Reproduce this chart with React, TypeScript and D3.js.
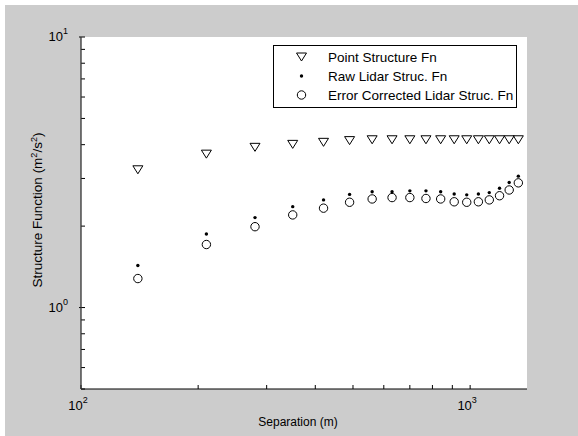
import React, { useRef, useEffect } from "react";
import * as d3 from "d3";

/* separation (m) and the three structure functions */
const SEPARATION = [140, 210, 280, 350, 420, 490, 560, 630, 700, 770, 840, 910, 980, 1050, 1120, 1190, 1260, 1330];
const POINT_SF = [3.23, 3.69, 3.91, 4.01, 4.08, 4.14, 4.17, 4.17, 4.17, 4.17, 4.17, 4.17, 4.17, 4.17, 4.17, 4.17, 4.17, 4.17];
const RAW_LIDAR = [1.43, 1.87, 2.15, 2.36, 2.5, 2.62, 2.68, 2.68, 2.7, 2.7, 2.68, 2.63, 2.61, 2.63, 2.66, 2.76, 2.9, 3.06];
const CORR_LIDAR = [1.28, 1.71, 1.99, 2.2, 2.33, 2.45, 2.52, 2.55, 2.55, 2.53, 2.52, 2.46, 2.45, 2.46, 2.5, 2.59, 2.72, 2.89];

const LEGEND = ["Point Structure Fn", "Raw Lidar Struc. Fn", "Error Corrected Lidar Struc. Fn"];
const X_DECADES = [2, 3];
const Y_DECADES = [0, 1];

export default function App() {
  const svgRef = useRef<SVGSVGElement>(null);

  useEffect(() => {
    document.body.style.margin = "0";

    /* ---- layout ---- */
    const W = 578;
    const H = 436;
    const M = { top: 37, right: 51, bottom: 47, left: 81 };
    const x = d3.scaleLog().domain([100, 1400]).range([M.left, W - M.right]);
    const y = d3.scaleLog().domain([0.5, 10]).range([H - M.bottom, M.top]);
    const font = "'Liberation Sans', Arial, sans-serif";

    const svg = d3.select(svgRef.current).attr("width", W).attr("height", H).style("font-family", font);
    svg.selectAll("*").remove();

    /* ---- background ---- */
    svg.append("rect").attr("x", 5).attr("y", 5).attr("width", W - 5).attr("height", H - 5).attr("fill", "#cccccc");
    svg
      .append("rect")
      .attr("x", M.left)
      .attr("y", M.top)
      .attr("width", W - M.right - M.left)
      .attr("height", H - M.bottom - M.top)
      .attr("fill", "#ffffff");

    /* ---- ticks (inward, MATLAB style) ---- */
    const xTicks = x.ticks().filter((t) => t >= 100 && t <= 1400);
    svg
      .append("g")
      .selectAll("line")
      .data(xTicks)
      .enter()
      .append("line")
      .attr("x1", (d) => x(d))
      .attr("x2", (d) => x(d))
      .attr("y1", H - M.bottom)
      .attr("y2", H - M.bottom - 4)
      .attr("stroke", "#000");

    const yTicks = y.ticks().filter((t) => t >= 0.5 && t <= 10);
    svg
      .append("g")
      .selectAll("line")
      .data(yTicks)
      .enter()
      .append("line")
      .attr("x1", (d) => (d === 1 || d === 10 ? M.left - 2 : M.left))
      .attr("x2", M.left + 4)
      .attr("y1", (d) => y(d))
      .attr("y2", (d) => y(d))
      .attr("stroke", "#000");

    /* ---- axis lines ---- */
    svg
      .append("line")
      .attr("x1", M.left)
      .attr("x2", W - M.right)
      .attr("y1", H - M.bottom)
      .attr("y2", H - M.bottom)
      .attr("stroke", "#000");
    svg
      .append("line")
      .attr("x1", M.left)
      .attr("x2", M.left)
      .attr("y1", M.top)
      .attr("y2", H - M.bottom)
      .attr("stroke", "#333")
      .attr("stroke-width", 1.3);

    /* ---- decade labels ---- */
    X_DECADES.forEach((p) => {
      const t = svg
        .append("text")
        .attr("x", x(10 ** p) - 3)
        .attr("y", H - M.bottom + 21)
        .attr("text-anchor", "middle")
        .style("font-size", "13px")
        .text("10");
      t.append("tspan").attr("dy", -7).style("font-size", "9px").text(p);
    });
    Y_DECADES.forEach((p) => {
      const t = svg
        .append("text")
        .attr("x", M.left - 13)
        .attr("y", y(10 ** p) + 4)
        .attr("text-anchor", "end")
        .style("font-size", "13px")
        .text("10");
      t.append("tspan").attr("dy", -7).style("font-size", "9px").text(p);
    });

    /* ---- axis titles ---- */
    svg
      .append("text")
      .attr("x", 298)
      .attr("y", 426)
      .attr("text-anchor", "middle")
      .style("font-size", "12px")
      .text("Separation (m)");

    const yt = svg
      .append("text")
      .attr("transform", `translate(42,210) rotate(-90)`)
      .attr("text-anchor", "middle")
      .style("font-size", "13.5px")
      .text("Structure Function (m");
    yt.append("tspan").attr("dy", -5).style("font-size", "9px").text("2");
    yt.append("tspan").attr("dy", 5).text("/s");
    yt.append("tspan").attr("dy", -5).style("font-size", "9px").text("2");
    yt.append("tspan").attr("dy", 5).text(")");

    /* ---- marker symbols ---- */
    const tri = (g: any, cx: number, cy: number) =>
      g
        .append("path")
        .attr("d", `M${cx - 5},${cy - 4}L${cx + 5},${cy - 4}L${cx},${cy + 4}Z`)
        .attr("fill", "none")
        .attr("stroke", "#000")
        .attr("stroke-width", 1);
    const dot = (g: any, cx: number, cy: number) =>
      g.append("circle").attr("cx", cx).attr("cy", cy).attr("r", 1.7).attr("fill", "#000");
    const ring = (g: any, cx: number, cy: number) =>
      g
        .append("circle")
        .attr("cx", cx)
        .attr("cy", cy)
        .attr("r", 4.2)
        .attr("fill", "none")
        .attr("stroke", "#000")
        .attr("stroke-width", 1);

    const marks = svg.append("g");
    SEPARATION.forEach((s, i) => {
      tri(marks, x(s), y(POINT_SF[i]));
      dot(marks, x(s), y(RAW_LIDAR[i]));
      ring(marks, x(s), y(CORR_LIDAR[i]));
    });

    /* ---- legend ---- */
    const lg = svg.append("g");
    lg.append("rect")
      .attr("x", 273.5)
      .attr("y", 45.5)
      .attr("width", 243)
      .attr("height", 62)
      .attr("fill", "#fff")
      .attr("stroke", "#000");
    const symbols = [tri, dot, ring];
    LEGEND.forEach((label, i) => {
      const cy = 57 + i * 19;
      symbols[i](lg, 301.5, cy);
      lg.append("text")
        .attr("x", 328)
        .attr("y", cy + 4.5)
        .style("font-size", "13.5px")
        .text(label);
    });
  }, []);

  return <svg ref={svgRef} style={{ display: "block" }} />;
}
